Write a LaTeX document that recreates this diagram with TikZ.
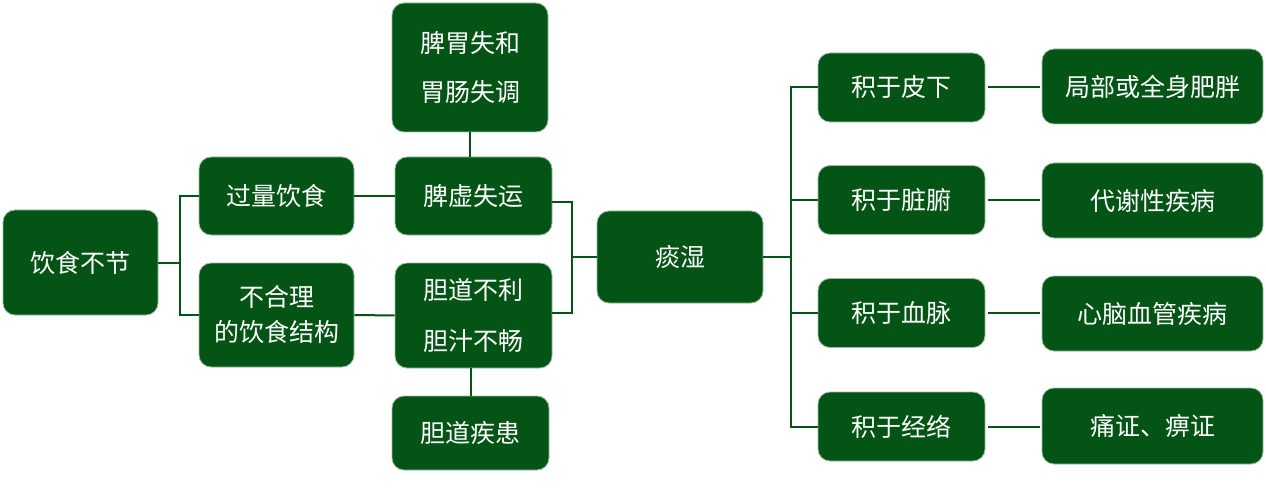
\documentclass[tikz,border=0pt]{standalone}
\usepackage{fontspec}
\newfontfamily\cjk{Noto Sans CJK SC}
\definecolor{dg}{RGB}{4,84,22}
\begin{document}
\begin{tikzpicture}[x=1pt,y=-1pt,
  box/.style={draw=dg!40!white, line width=0.8pt, fill=dg, rounded corners=12pt, text=white,
    font=\cjk\fontsize{25}{30}\selectfont, align=center, inner sep=0pt},
  conn/.style={draw=dg, line width=2pt}]
\useasboundingbox (0,0) rectangle (1266,489);
\node[box, minimum width=155, minimum height=105] (yinshi) at (80.5,262.5) {饮食不节};
\node[box, minimum width=155, minimum height=78] (guoliang) at (276.5,196) {过量饮食};
\node[box, minimum width=155, minimum height=104] (buheli) at (276.5,315) {不合理\\[5pt]的饮食结构};
\node[box, minimum width=156, minimum height=129] (piwei) at (470,67.5) {脾胃失和\\[19pt]胃肠失调};
\node[box, minimum width=157, minimum height=78] (pixu) at (473.5,196) {脾虚失运};
\node[box, minimum width=157, minimum height=105] (dandao) at (473.5,315.5) {胆道不利\\[21pt]胆汁不畅};
\node[box, minimum width=157, minimum height=74] (danji) at (470.5,433) {胆道疾患};
\node[box, minimum width=166, minimum height=92] (tanshi) at (680,257) {痰湿};
\node[box, minimum width=167, minimum height=69] (ji1) at (901.5,87.5) {积于皮下};
\node[box, minimum width=167, minimum height=69] (ji2) at (901.5,200) {积于脏腑};
\node[box, minimum width=167, minimum height=69] (ji3) at (901.5,313) {积于血脉};
\node[box, minimum width=167, minimum height=69] (ji4) at (901.5,426.5) {积于经络};
\node[box, minimum width=221, minimum height=75] (r1) at (1152.5,86.5) {局部或全身肥胖};
\node[box, minimum width=221, minimum height=75] (r2) at (1152.5,200.5) {代谢性疾病};
\node[box, minimum width=221, minimum height=75] (r3) at (1152.5,313.5) {心脑血管疾病};
\node[box, minimum width=221, minimum height=76] (r4) at (1152.5,426) {痛证、痹证};
\coordinate (j1) at (180,263);
\coordinate (j2) at (572,257);
\coordinate (j3) at (791,257);
% left tree
\draw[conn] (yinshi.east |- j1) -- (j1);
\draw[conn] (guoliang.west) -| (j1) |- (buheli.west);
\draw[conn] (guoliang) -- (pixu);
\draw[conn] (buheli) -- (dandao);
\draw[conn] (piwei.south) -- (piwei.south |- pixu.north);
\draw[conn] (danji.north) -- (danji.north |- dandao.south);
% to tanshi
\draw[conn] ([yshift=-6]pixu.east) -| (j2) |- ([yshift=3]dandao.east);
\draw[conn] (j2) -- (tanshi.west);
% right tree
\draw[conn] (tanshi.east) -- (j3);
\draw[conn] (ji1.west) -| (j3) |- (ji4.west);
\draw[conn] (j3 |- ji2.west) -- (ji2.west);
\draw[conn] (j3 |- ji3.west) -- (ji3.west);
\draw[conn] ([xshift=3]ji1.east) -- ([xshift=-2]ji1.east -| r1.west);
\draw[conn] ([xshift=3]ji2.east) -- ([xshift=-2]ji2.east -| r2.west);
\draw[conn] ([xshift=3]ji3.east) -- ([xshift=-2]ji3.east -| r3.west);
\draw[conn] ([xshift=3]ji4.east) -- ([xshift=-2]ji4.east -| r4.west);
\end{tikzpicture}
\end{document}
